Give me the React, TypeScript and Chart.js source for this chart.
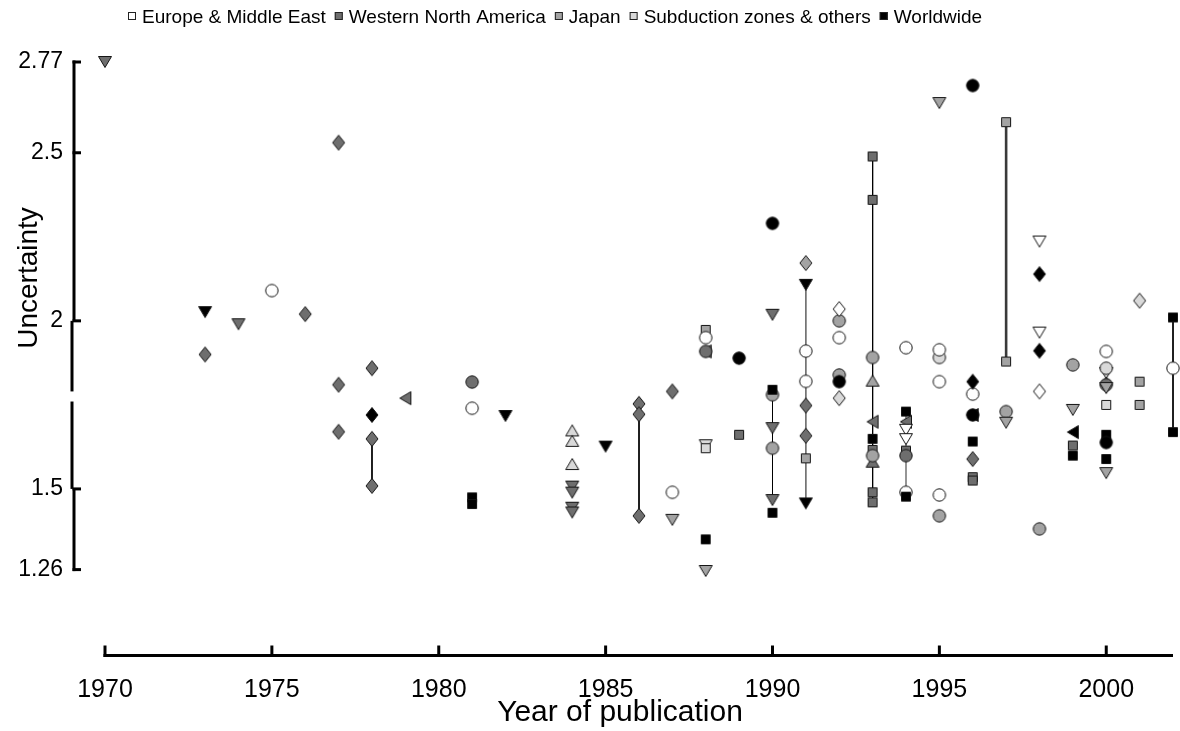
import React, { useEffect, useRef } from "react";
import { Chart, registerables } from "chart.js";

Chart.register(...registerables);

// ---------- data ----------
const regions = [
  "Europe & Middle East",
  "Western North America",
  "Japan",
  "Subduction zones & others",
  "Worldwide",
];

// shape codes: o circle, d diamond, v triangle down, ^ triangle up, < triangle left, s square
const europeYears = [1975, 1981, 1987, 1988, 1991, 1991, 1992, 1992, 1994, 1994, 1994, 1994, 1995, 1995, 1995, 1996, 1998, 1998, 1998, 2000, 2002];
const europeValues = [2.09, 1.74, 1.49, 1.95, 1.91, 1.82, 2.035, 1.95, 1.92, 1.676, 1.648, 1.49, 1.914, 1.819, 1.482, 1.782, 2.236, 1.965, 1.79, 1.909, 1.859];
const europeShapes = ["o", "o", "o", "o", "o", "o", "d", "o", "o", "v", "v", "o", "o", "o", "o", "o", "v", "v", "d", "o", "o"];

const wnaYears = [1970, 1973, 1974, 1976, 1977, 1977, 1977, 1978, 1978, 1978, 1979, 1981, 1984, 1984, 1984, 1984, 1986, 1986, 1986, 1987, 1988, 1988, 1989, 1990, 1990, 1990, 1991, 1991, 1993, 1993, 1993, 1993, 1993, 1993, 1993, 1994, 1994, 1994, 1996, 1996, 1996, 1999, 2000, 2000];
const wnaValues = [2.77, 1.9, 1.99, 2.02, 2.53, 1.81, 1.67, 1.859, 1.649, 1.509, 1.77, 1.818, 1.507, 1.489, 1.444, 1.43, 1.753, 1.722, 1.42, 1.79, 1.909, 1.909, 1.661, 2.018, 1.681, 1.467, 1.748, 1.658, 2.489, 2.36, 1.7, 1.616, 1.581, 1.49, 1.46, 1.7, 1.614, 1.599, 1.589, 1.535, 1.525, 1.629, 1.81, 1.81];
const wnaShapes = ["v", "d", "v", "d", "d", "d", "d", "d", "d", "d", "<", "o", "v", "v", "v", "v", "d", "d", "d", "d", "<", "o", "s", "v", "v", "v", "d", "d", "s", "s", "<", "s", "^", "s", "s", "<", "s", "o", "d", "s", "s", "s", "d", "o"];

const japanYears = [1987, 1988, 1988, 1990, 1990, 1991, 1991, 1992, 1992, 1993, 1993, 1993, 1995, 1995, 1997, 1997, 1997, 1997, 1998, 1999, 1999, 2000, 2000, 2001, 2001];
const japanValues = [1.408, 1.973, 1.256, 1.78, 1.621, 2.172, 1.591, 2.0, 1.839, 1.891, 1.822, 1.599, 2.648, 1.42, 2.591, 1.879, 1.73, 1.697, 1.381, 1.869, 1.735, 1.8, 1.547, 1.819, 1.75];
const japanShapes = ["v", "s", "v", "o", "o", "d", "s", "o", "o", "o", "^", "o", "v", "o", "s", "s", "o", "v", "o", "o", "v", "v", "v", "s", "s"];

const subductionYears = [1984, 1984, 1984, 1988, 1988, 1992, 1995, 2000, 2000, 2000, 2001];
const subductionValues = [1.674, 1.643, 1.574, 1.63, 1.621, 1.77, 1.891, 1.845, 1.859, 1.75, 2.06];
const subductionShapes = ["^", "^", "^", "v", "s", "d", "o", "v", "o", "s", "d"];

const worldwideYears = [1973, 1978, 1981, 1981, 1982, 1985, 1988, 1989, 1990, 1990, 1990, 1991, 1991, 1992, 1993, 1994, 1994, 1996, 1996, 1996, 1996, 1996, 1998, 1998, 1999, 1999, 2000, 2000, 2000, 2002, 2002];
const worldwideValues = [2.026, 1.72, 1.475, 1.455, 1.717, 1.626, 1.35, 1.889, 2.29, 1.795, 1.429, 2.107, 1.457, 1.819, 1.649, 1.73, 1.477, 2.7, 1.819, 1.72, 1.72, 1.641, 2.139, 1.911, 1.669, 1.599, 1.661, 1.638, 1.589, 2.01, 1.669];
const worldwideShapes = ["v", "d", "s", "s", "v", "v", "s", "o", "o", "s", "s", "v", "v", "o", "s", "s", "s", "o", "d", "<", "o", "s", "d", "d", "<", "s", "s", "o", "s", "s", "s"];

// vertical range lines
const rangeYears = [1978, 1986, 1990, 1991, 1993, 1994, 1997, 2002];
const rangeHigh = [1.649, 1.722, 1.795, 2.107, 2.489, 1.73, 2.591, 2.01];
const rangeLow = [1.509, 1.42, 1.467, 1.457, 1.46, 1.49, 1.879, 1.669];

const xTickYears = [1970, 1975, 1980, 1985, 1990, 1995, 2000];
const yTickValues = [1.26, 1.5, 2, 2.5, 2.77];

// ---------- styles ----------
const regionFills = ["#ffffff", "#6e6e6e", "#a3a3a3", "#d9d9d9", "#000000"];
const regionOrder = [1, 4, 3, 2, 0];
const rangeColors = ["#000", "#000", "#000", "#6a6a6a", "#000", "#6a6a6a", "#3a3a3a", "#000"];
const rangeWidths = [1, 1, 1, 1.6, 1, 1.4, 2.6, 1];
const FONT = "'Liberation Sans', Arial, Helvetica, sans-serif";

const xMinYear = 1969.0412;
const xMaxYear = 2002;
const yMin = 1.0;
const yMax = 2.77;
const axisBreakLow = 1.76;
const axisBreakHigh = 1.79;

const markerCache: Record<string, HTMLCanvasElement> = {};
function marker(shape: string, fill: string): HTMLCanvasElement {
  const key = shape + "|" + fill;
  if (markerCache[key]) return markerCache[key];
  const c = document.createElement("canvas");
  c.width = 20;
  c.height = 20;
  const g = c.getContext("2d")!;
  g.fillStyle = fill;
  g.strokeStyle = "#151515";
  g.lineWidth = 1;
  g.beginPath();
  switch (shape) {
    case "o":
      g.arc(10, 10, 6.2, 0, Math.PI * 2);
      break;
    case "s":
      g.rect(5.5, 5.5, 9, 9);
      break;
    case "d":
      g.moveTo(10, 2.5);
      g.lineTo(16, 10);
      g.lineTo(10, 17.5);
      g.lineTo(4, 10);
      g.closePath();
      break;
    case "v":
      g.moveTo(3.5, 4.5);
      g.lineTo(16.5, 4.5);
      g.lineTo(10, 15.5);
      g.closePath();
      break;
    case "^":
      g.moveTo(10, 4.5);
      g.lineTo(16.5, 15.5);
      g.lineTo(3.5, 15.5);
      g.closePath();
      break;
    case "<":
      g.moveTo(4.5, 10);
      g.lineTo(15.5, 3.5);
      g.lineTo(15.5, 16.5);
      g.closePath();
      break;
  }
  g.fill();
  g.stroke();
  markerCache[key] = c;
  return c;
}

const decorPlugin = {
  id: "decor",
  beforeDatasetsDraw(chart: any) {
    const ctx = chart.ctx;
    const xs = chart.scales.x;
    const ys = chart.scales.y;
    const ax = chart.chartArea.left;
    ctx.save();
    ctx.strokeStyle = "#000";
    ctx.lineWidth = 3;
    ctx.lineCap = "butt";
    const py = (v: number) => ys.getPixelForValue(v);
    const seg = (x: number, a: number, b: number) => {
      ctx.beginPath();
      ctx.moveTo(x, a);
      ctx.lineTo(x, b);
      ctx.stroke();
    };
    const top = py(2.77) - 1.5;
    const bot = py(1.26) + 1.5;
    seg(ax + 1, top, py(2));
    seg(ax - 1, py(2), py(axisBreakHigh));
    seg(ax - 1, py(axisBreakLow), py(1.5));
    seg(ax + 1, py(1.5), bot);
    for (const v of yTickValues) {
      ctx.beginPath();
      ctx.moveTo(ax - 0.5, py(v));
      ctx.lineTo(ax + 8, py(v));
      ctx.stroke();
    }
    // x axis
    const axY = chart.chartArea.bottom - 1.5;
    ctx.beginPath();
    ctx.moveTo(xs.getPixelForValue(1970) - 1.5, axY);
    ctx.lineTo(xs.getPixelForValue(xMaxYear), axY);
    ctx.stroke();
    for (const v of xTickYears) {
      const px = xs.getPixelForValue(v);
      ctx.beginPath();
      ctx.moveTo(px, axY + 1.5);
      ctx.lineTo(px, axY - 10);
      ctx.stroke();
    }
    ctx.restore();
  },
  afterDraw(chart: any) {
    const ctx = chart.ctx;
    ctx.save();
    ctx.fillStyle = "#000";
    // axis titles
    ctx.font = "28px " + FONT;
    ctx.textAlign = "center";
    ctx.textBaseline = "middle";
    ctx.save();
    ctx.translate(29, 278);
    ctx.rotate(-Math.PI / 2);
    ctx.fillText("Uncertainty", 0, 0);
    ctx.restore();
    ctx.textBaseline = "alphabetic";
    ctx.font = "30px " + FONT;
    ctx.fillText("Year of publication", 620, 721);
    // legend
    ctx.font = "19px " + FONT;
    ctx.textAlign = "left";
    let x = 128;
    regions.forEach((name, i) => {
      ctx.fillStyle = regionFills[i];
      ctx.fillRect(x, 12, 8, 8);
      ctx.strokeStyle = "#222";
      ctx.lineWidth = 1;
      ctx.strokeRect(x + 0.5, 12.5, 7, 7);
      ctx.fillStyle = "#000";
      const tx = x + 8 + 6;
      ctx.fillText(name, tx, 22.5);
      x = tx + ctx.measureText(name).width + 9;
    });
    ctx.restore();
  },
};

export default function App() {
  const ref = useRef<HTMLCanvasElement>(null);
  useEffect(() => {
    document.body.style.margin = "0";
    Chart.defaults.font.family = FONT;
    const series = [
      { years: europeYears, values: europeValues, shapes: europeShapes },
      { years: wnaYears, values: wnaValues, shapes: wnaShapes },
      { years: japanYears, values: japanValues, shapes: japanShapes },
      { years: subductionYears, values: subductionValues, shapes: subductionShapes },
      { years: worldwideYears, values: worldwideValues, shapes: worldwideShapes },
    ];
    const pointSets: any[] = series.map((s, i) => ({
      type: "scatter",
      label: regions[i],
      data: s.years.map((yr, k) => ({ x: yr, y: s.values[k] })),
      pointStyle: s.shapes.map((sh) => marker(sh, regionFills[i])),
      pointRadius: 6,
      clip: false,
      order: regionOrder[i],
    }));
    const lineSets: any[] = rangeYears.map((yr, i) => ({
      type: "scatter",
      label: "range" + i,
      data: [
        { x: yr, y: rangeHigh[i] },
        { x: yr, y: rangeLow[i] },
      ],
      showLine: true,
      pointRadius: 0,
      borderColor: rangeColors[i],
      borderWidth: rangeWidths[i],
      clip: false,
      order: 10,
    }));
    const chart = new Chart(ref.current!, {
      type: "scatter",
      data: { datasets: [...lineSets, ...pointSets] },
      options: {
        responsive: false,
        animation: false,
        devicePixelRatio: 1,
        events: [],
        layout: { padding: { top: 62, right: 7, left: 0, bottom: 0 } },
        plugins: { legend: { display: false }, tooltip: { enabled: false } },
        scales: {
          x: {
            type: "linear",
            min: xMinYear,
            max: xMaxYear,
            grid: { display: false, drawTicks: false },
            border: { display: false },
            ticks: {
              color: "#000",
              font: { size: 25 },
              padding: 18,
              maxRotation: 0,
              autoSkip: false,
              callback: (v: any) => String(v),
            },
            afterBuildTicks: (s: any) => {
              s.ticks = xTickYears.map((v) => ({ value: v }));
            },
            afterFit: (s: any) => {
              s.height = 74;
            },
          },
          y: {
            type: "linear",
            min: yMin,
            max: yMax,
            grid: { display: false, drawTicks: false },
            border: { display: false },
            ticks: {
              color: "#000",
              font: { size: 23 },
              padding: 10,
              autoSkip: false,
              callback: (v: any) => String(v),
            },
            afterBuildTicks: (s: any) => {
              s.ticks = yTickValues.map((v) => ({ value: v }));
            },
            afterFit: (s: any) => {
              s.width = 73;
            },
          },
        },
      },
      plugins: [decorPlugin],
    } as any);
    return () => chart.destroy();
  }, []);
  return (
    <div style={{ width: 1180, height: 731 }}>
      <canvas ref={ref} width={1180} height={731} style={{ display: "block" }} />
    </div>
  );
}
